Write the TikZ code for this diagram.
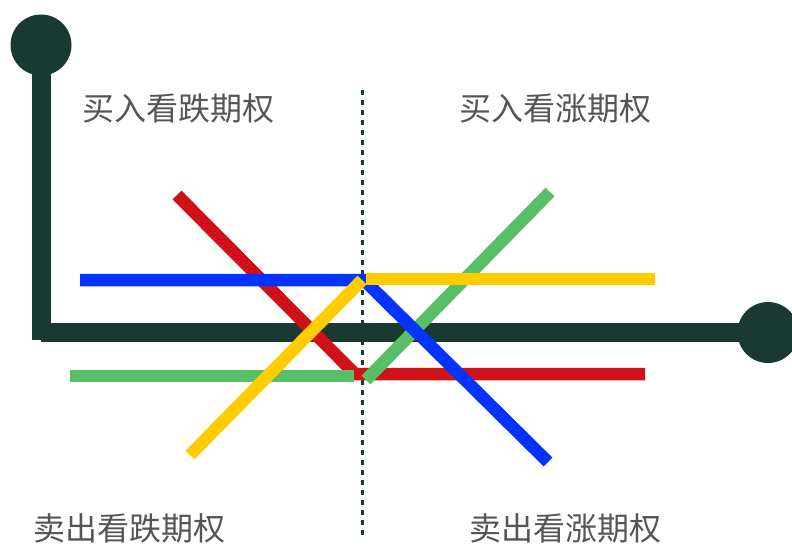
\documentclass[tikz,border=0pt]{standalone}
\usepackage{fontspec}
\newfontfamily\cjk{Noto Sans CJK SC}
\definecolor{axisc}{HTML}{183A32}
\definecolor{redc}{HTML}{D01218}
\definecolor{bluec}{HTML}{0433FF}
\definecolor{yellowc}{HTML}{FFCC00}
\definecolor{greenc}{HTML}{59BF66}
\definecolor{textc}{HTML}{555555}
\begin{document}
\begin{tikzpicture}[x=1pt,y=-1pt,
  axisline/.style={draw=axisc,line width=19pt},
  knob/.style={circle,fill=axisc,minimum size=61pt,inner sep=0pt},
  payoff/.style={line width=12.5pt,line join=miter},
  lbl/.style={font=\cjk\fontsize{32}{36}\selectfont,text=textc,inner sep=0pt}]
\useasboundingbox (0,0) rectangle (792,544);
% axes
\node[knob] (top) at (41,45) {};
\node[knob] (right) at (768,332.5) {};
\coordinate (vb) at (41,340);
\coordinate (hl) at (41,332.5);
\draw[axisline] (top.center) -- (vb);
\draw[axisline] (hl) -- (right.center);
% dotted divider
\coordinate (d1) at (362,90);
\coordinate (d2) at (362,536);
\draw[axisc,line width=3pt,dash pattern=on 5pt off 5pt] (d1) -- (d2);
% red
\coordinate (r1) at (177,195);
\coordinate (r2) at (355,374);
\coordinate (r3) at (645,374);
\draw[payoff,redc] (r1) -- (r2) -- (r3);
% green
\coordinate (g1) at (70,376);
\coordinate (g2) at (354,376);
\coordinate (g3) at (366,380);
\coordinate (g4) at (550,192);
\draw[payoff,greenc] (g1) -- (g2);
\draw[payoff,greenc] (g3) -- (g4);
% blue
\coordinate (b1) at (80,280);
\coordinate (b2) at (364,280);
\coordinate (b3) at (548,462);
\draw[payoff,bluec] (b1) -- (b2) -- (b3);
% yellow
\coordinate (y1) at (190,455);
\coordinate (y2) at (362,280);
\coordinate (y3) at (366,279);
\coordinate (y4) at (655,279);
\draw[payoff,yellowc] (y1) -- (y2);
\draw[payoff,yellowc] (y3) -- (y4);
% labels
\node[lbl] (l1) at (178,108) {买入看跌期权};
\node[lbl] (l2) at (555,108) {买入看涨期权};
\node[lbl] (l3) at (129,528) {卖出看跌期权};
\node[lbl] (l4) at (565,528) {卖出看涨期权};
\end{tikzpicture}
\end{document}
